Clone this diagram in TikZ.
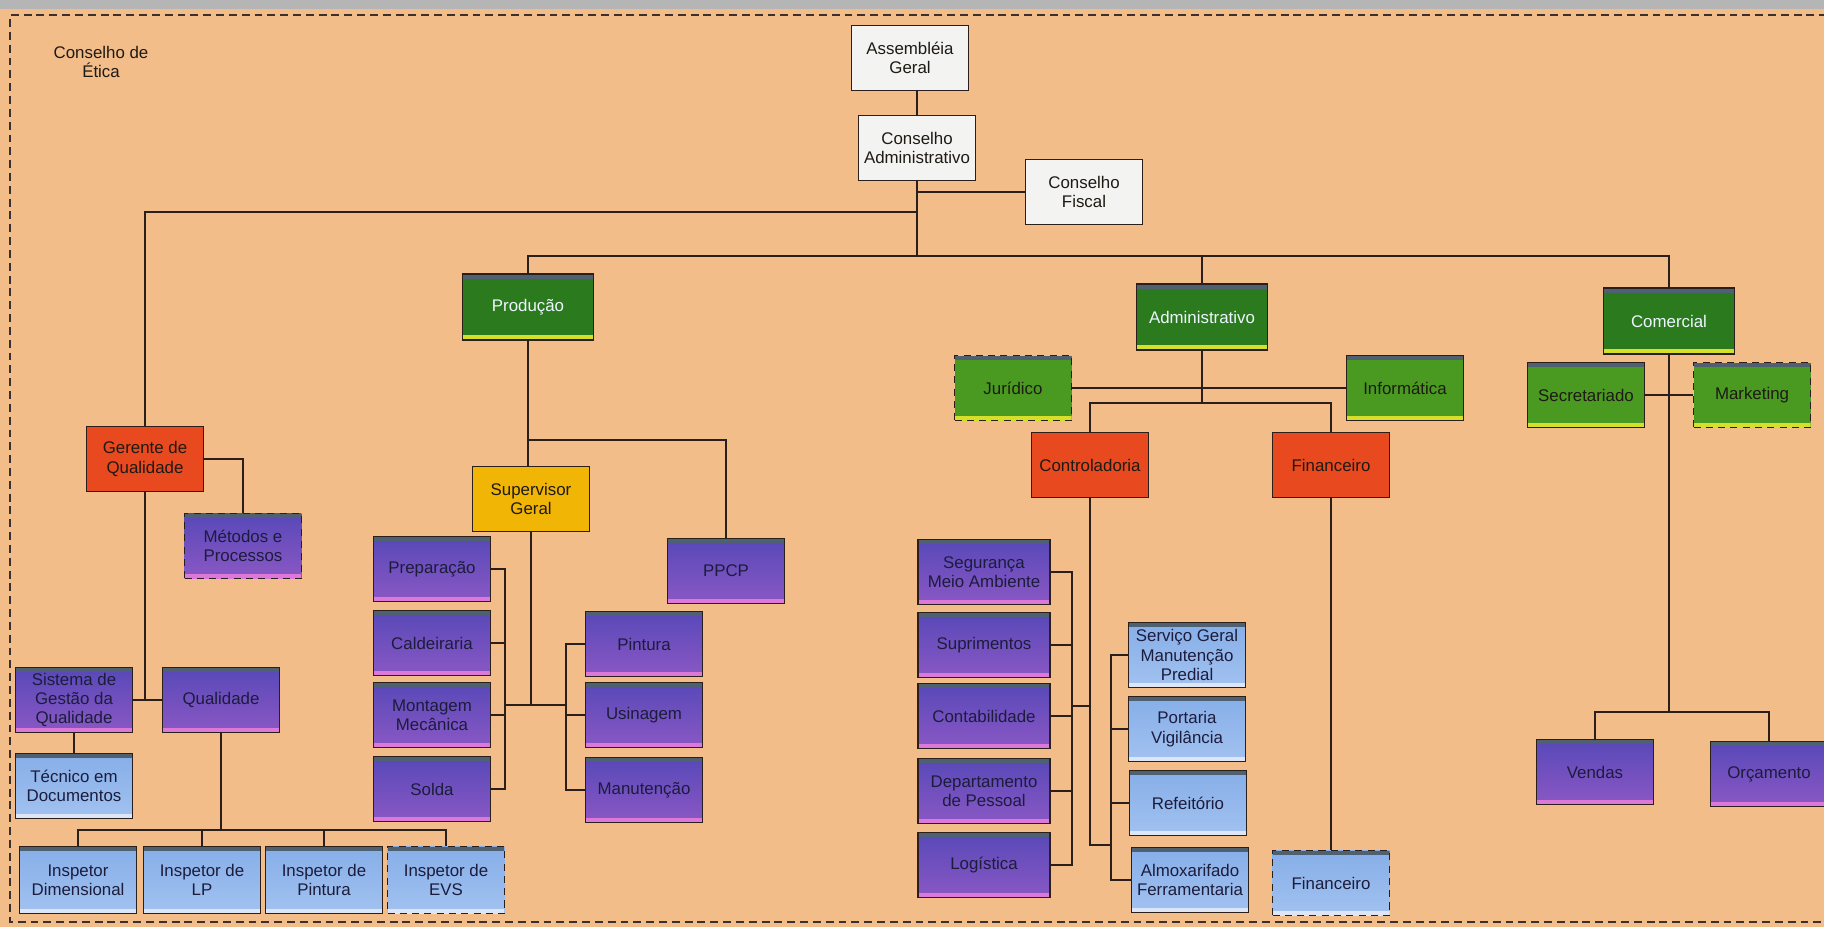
\documentclass[tikz,border=0pt]{standalone}
\usepackage{fontspec}
\setmainfont{Liberation Sans}
\usepackage{tikz}
\definecolor{bgpeach}{HTML}{F3BD8A}
\definecolor{bandgray}{HTML}{B5B5B5}
\definecolor{framecol}{HTML}{3A3030}
\definecolor{linecol}{HTML}{2A1F1A}
\definecolor{boxwhite}{HTML}{F3F3F1}
\definecolor{darkgreen}{HTML}{2C7A1E}
\definecolor{litgreen}{HTML}{4A9A22}
\definecolor{stripyellow}{HTML}{D6E02A}
\definecolor{redbox}{HTML}{E9491F}
\definecolor{yelbox}{HTML}{F1B505}
\definecolor{purtop}{HTML}{5848B8}
\definecolor{purbot}{HTML}{8A58C4}
\definecolor{pinkstrip}{HTML}{DC78D8}
\definecolor{blutop}{HTML}{86AEE8}
\definecolor{blubot}{HTML}{A2C2F0}
\definecolor{blustrip}{HTML}{DCE6F6}
\definecolor{shadetop}{HTML}{4F6070}
\definecolor{labwhite}{HTML}{EEF6FF}
\definecolor{navytext}{HTML}{1C1C3C}
\definecolor{darktext}{HTML}{1E1A14}

\begin{document}
\begin{tikzpicture}[x=0.02cm,y=-0.02cm]
\tikzset{box/.style = {shape=rectangle,draw=linecol,line width=1pt,minimum width=2.34cm,minimum height=1.3cm,align=center,inner xsep=1.5pt,inner ysep=1pt,text=darktext,font=\fontsize{9.6}{11}\selectfont}}
\tikzset{strip/.style = {path picture={\fill[#1] ([yshift=0.1cm]path picture bounding box.south west) rectangle (path picture bounding box.south east);
  \fill[shadetop] (path picture bounding box.north west) rectangle ([yshift=-0.09cm]path picture bounding box.north east);}}}
\tikzset{wbox/.style = {box,fill=boxwhite}}
\tikzset{gbig/.style = {box,fill=darkgreen,minimum width=2.62cm,minimum height=1.32cm,text=labwhite,strip=stripyellow}}
\tikzset{gsub/.style = {box,fill=litgreen,strip=stripyellow}}
\tikzset{rbox/.style = {box,fill=redbox}}
\tikzset{ybox/.style = {box,fill=yelbox}}
\tikzset{pbox/.style = {box,top color=purtop,bottom color=purbot,text=navytext,strip=pinkstrip}}
\tikzset{bbox/.style = {box,top color=blutop,bottom color=blubot,text=navytext,strip=blustrip}}
\tikzset{dashbox/.style = {dashed,dash pattern=on 4pt off 3pt}}
\tikzset{edge/.style = {draw=linecol,line width=1pt}}
\useasboundingbox (0,0) rectangle (1824,927);
\fill[bgpeach] (0,0) rectangle (1824,927);
\fill[bandgray] (0,0) rectangle (1824,9);
\draw[framecol,line width=1.1pt,dash pattern=on 4.5pt off 2.8pt] (1840,15) -- (10,15) -- (10,922) -- (1840,922);
\node[align=center,text=darktext,font=\fontsize{9.6}{11}\selectfont] (etica) at (101,62) {Conselho de\\Ética};
\node[wbox] (ag) at (910,58) {Assembléia\\Geral};
\node[wbox] (ca) at (917,148) {Conselho\\Administrativo};
\node[wbox] (cf) at (1084,192) {Conselho\\Fiscal};
\node[gbig] (prod) at (528,307) {Produção};
\node[gbig] (adm) at (1202,317) {Administrativo};
\node[gbig] (com) at (1669,321) {Comercial};
\node[gsub,dashbox] (jur) at (1013,388) {Jurídico};
\node[gsub] (inf) at (1405,388) {Informática};
\node[gsub] (sec) at (1586,395) {Secretariado};
\node[gsub,dashbox] (mkt) at (1752,395) {Marketing};
\node[rbox] (gq) at (145,459) {Gerente de\\Qualidade};
\node[pbox,dashbox] (met) at (243,546) {Métodos e\\Processos};
\node[ybox] (sg) at (531,499) {Supervisor\\Geral};
\node[pbox] (ppcp) at (726,571) {PPCP};
\node[pbox] (prep) at (432,569) {Preparação};
\node[pbox] (cald) at (432,643) {Caldeiraria};
\node[pbox] (mont) at (432,715) {Montagem\\Mecânica};
\node[pbox] (solda) at (432,789) {Solda};
\node[pbox] (pint) at (644,644) {Pintura};
\node[pbox] (usin) at (644,715) {Usinagem};
\node[pbox] (manut) at (644,790) {Manutenção};
\node[pbox] (sgq) at (74,700) {Sistema de\\Gestão da\\Qualidade};
\node[pbox] (qual) at (221,700) {Qualidade};
\node[bbox] (tec) at (74,786) {Técnico em\\Documentos};
\node[bbox,minimum height=1.34cm] (idim) at (78,880) {Inspetor\\Dimensional};
\node[bbox,minimum height=1.34cm] (ilp) at (202,880) {Inspetor de\\LP};
\node[bbox,minimum height=1.34cm] (ipin) at (324,880) {Inspetor de\\Pintura};
\node[bbox,dashbox,minimum height=1.34cm] (ievs) at (446,880) {Inspetor de\\EVS};
\node[rbox] (ctrl) at (1090,465) {Controladoria};
\node[rbox] (fin) at (1331,465) {Financeiro};
\node[pbox,minimum width=2.64cm] (seg) at (984,572) {Segurança\\Meio Ambiente};
\node[pbox,minimum width=2.64cm] (sup) at (984,645) {Suprimentos};
\node[pbox,minimum width=2.64cm] (cont) at (984,716) {Contabilidade};
\node[pbox,minimum width=2.64cm] (dp) at (984,791) {Departamento\\de Pessoal};
\node[pbox,minimum width=2.64cm] (log) at (984,865) {Logística};
\node[bbox] (serv) at (1187,655) {Serviço Geral\\Manutenção\\Predial};
\node[bbox] (port) at (1187,729) {Portaria\\Vigilância};
\node[bbox] (ref) at (1188,803) {Refeitório};
\node[bbox] (alm) at (1190,880) {Almoxarifado\\Ferramentaria};
\node[bbox,dashbox] (fin2) at (1331,883) {Financeiro};
\node[pbox] (vend) at (1595,772) {Vendas};
\node[pbox] (orc) at (1769,774) {Orçamento};
\coordinate (top) at (917,256);
\coordinate (qline) at (917,212);
\coordinate (pp) at (528,440);
\coordinate (lb) at (505,705);
\coordinate (rb) at (566,705);
\coordinate (qj) at (221,830);
\coordinate (aj) at (1202,403);
\coordinate (cl) at (1072,706);
\coordinate (cr) at (1111,845);
\coordinate (cj) at (1669,712);
\draw[edge] (ca.north) -- (ca.north |- ag.south);
\draw[edge] (ca.south) -- (top);
\draw[edge] (cf.west) -- (cf.west -| ca.south);
\draw[edge] (qline) -| (gq.north);
\draw[edge] (prod.north) |- (top) -| (com.north);
\draw[edge] (top) -| (adm.north);
\draw[edge] (prod.south) -- (prod.south |- sg.north);
\draw[edge] (pp) -| (ppcp.north);
\draw[edge] (sg.south) -- (sg.south |- lb);
\draw[edge] (lb) -- (rb);
\foreach \n in {prep,cald,mont,solda} \draw[edge] (\n.east) -| (lb);
\foreach \n in {pint,usin,manut} \draw[edge] (\n.west) -| (rb);
\draw[edge] (gq.east) -| (met.north);
\draw[edge] (gq.south) -- (gq.south |- sgq.east);
\draw[edge] (sgq.east) -- (qual.west);
\draw[edge] (sgq.south) -- (tec.north);
\draw[edge] (qual.south) -- (qj);
\foreach \n in {idim,ilp,ipin,ievs} \draw[edge] (qj) -| (\n.north);
\draw[edge] (adm.south) -- (aj);
\draw[edge] (jur.east) -- (inf.west);
\draw[edge] (aj) -| (ctrl.north);
\draw[edge] (aj) -| (fin.north);
\draw[edge] (ctrl.south) |- (cr);
\draw[edge] (cl) -- (cl -| ctrl.south);
\foreach \n in {seg,sup,cont,dp,log} \draw[edge] (\n.east) -| (cl);
\foreach \n in {serv,port,ref,alm} \draw[edge] (\n.west) -| (cr);
\draw[edge] (fin.south) -- (fin2.north);
\draw[edge] (com.south) -- (cj);
\draw[edge] (sec.east) -- (mkt.west);
\draw[edge] (cj) -| (vend.north);
\draw[edge] (cj) -| (orc.north);
\end{tikzpicture}
\end{document}
